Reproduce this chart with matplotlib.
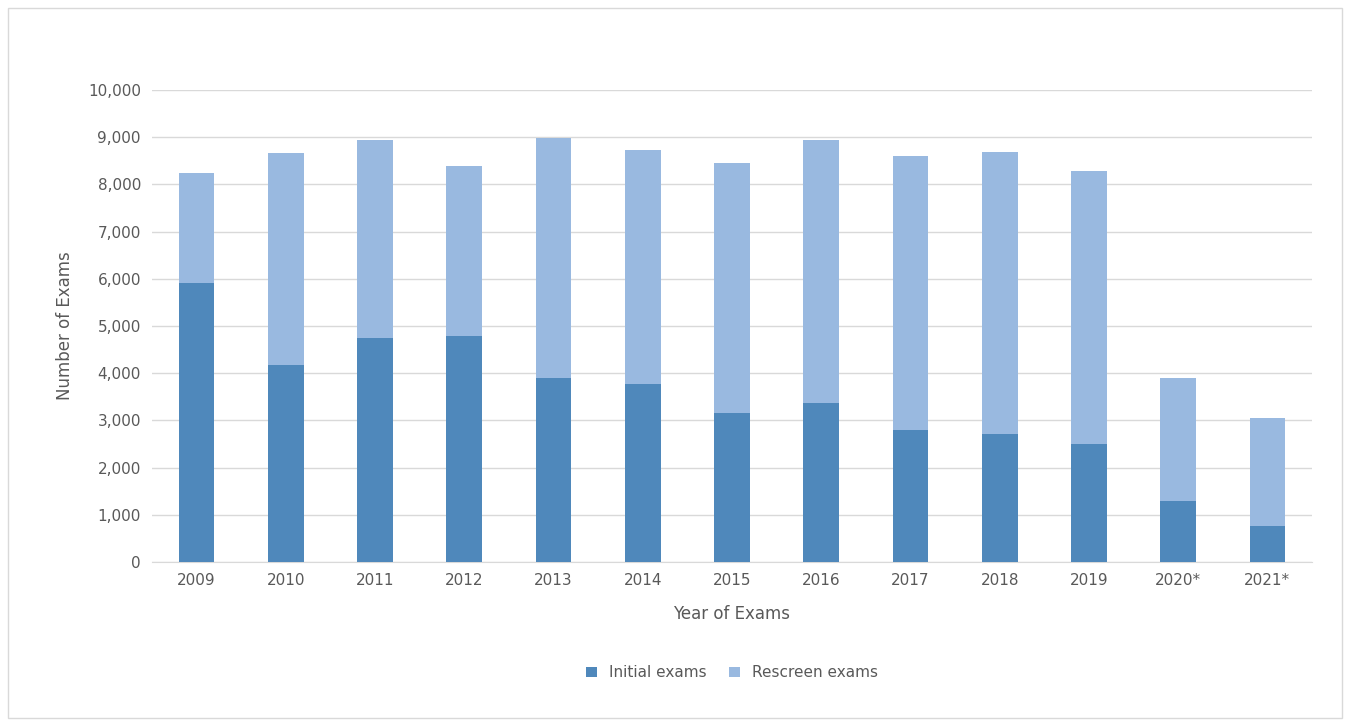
import matplotlib
matplotlib.use("Agg")
import matplotlib.pyplot as plt
import numpy as np

years = ["2009","2010","2011","2012","2013","2014","2015","2016","2017","2018","2019","2020*","2021*"]
initial = [5920,4170,4750,4790,3900,3770,3160,3370,2800,2710,2500,1290,760]
total = [8240,8670,8940,8390,8980,8730,8450,8940,8600,8690,8280,3900,3050]
rescreen = [t-i for t,i in zip(total, initial)]

W, H = 1350, 726
fig = plt.figure(figsize=(W/100, H/100), dpi=100)
fig.patches.append(plt.Rectangle((8/W, 8/H), (W-16)/W, (H-16)/H, transform=fig.transFigure,
                                 fill=False, edgecolor="#d9d9d9", linewidth=1))
ax = fig.add_axes([152/W, 1-562/H, (1312-152)/W, (562-90)/H])
x = np.arange(len(years))
ax.bar(x, initial, width=0.4, color="#4F88BB", label="Initial exams", zorder=3)
ax.bar(x, rescreen, width=0.4, bottom=initial, color="#99B9E0", label="Rescreen exams", zorder=3)
ax.set_ylim(0, 10000)
ax.set_xlim(-0.5, len(years)-0.5)
ax.set_yticks(range(0, 10001, 1000))
ax.set_yticklabels([f"{v:,}" for v in range(0, 10001, 1000)])
ax.set_xticks(x)
ax.set_xticklabels(years)
ax.grid(axis="y", color="#d9d9d9", linewidth=1, zorder=0)
for s in ["top", "right", "left"]:
    ax.spines[s].set_visible(False)
ax.spines["bottom"].set_color("#d9d9d9")
ax.tick_params(length=0, labelsize=11, colors="#595959", pad=8)
ax.set_xlabel("Year of Exams", fontsize=12, color="#595959", labelpad=12)
ax.set_ylabel("Number of Exams", fontsize=12, color="#595959", labelpad=10)
ax.legend(loc="upper center", bbox_to_anchor=(0.5, -0.19), ncol=2, frameon=False,
          fontsize=11, labelcolor="#595959", handlelength=0.7, handleheight=0.7, columnspacing=1.5)
fig.savefig("out.png", dpi=100)
